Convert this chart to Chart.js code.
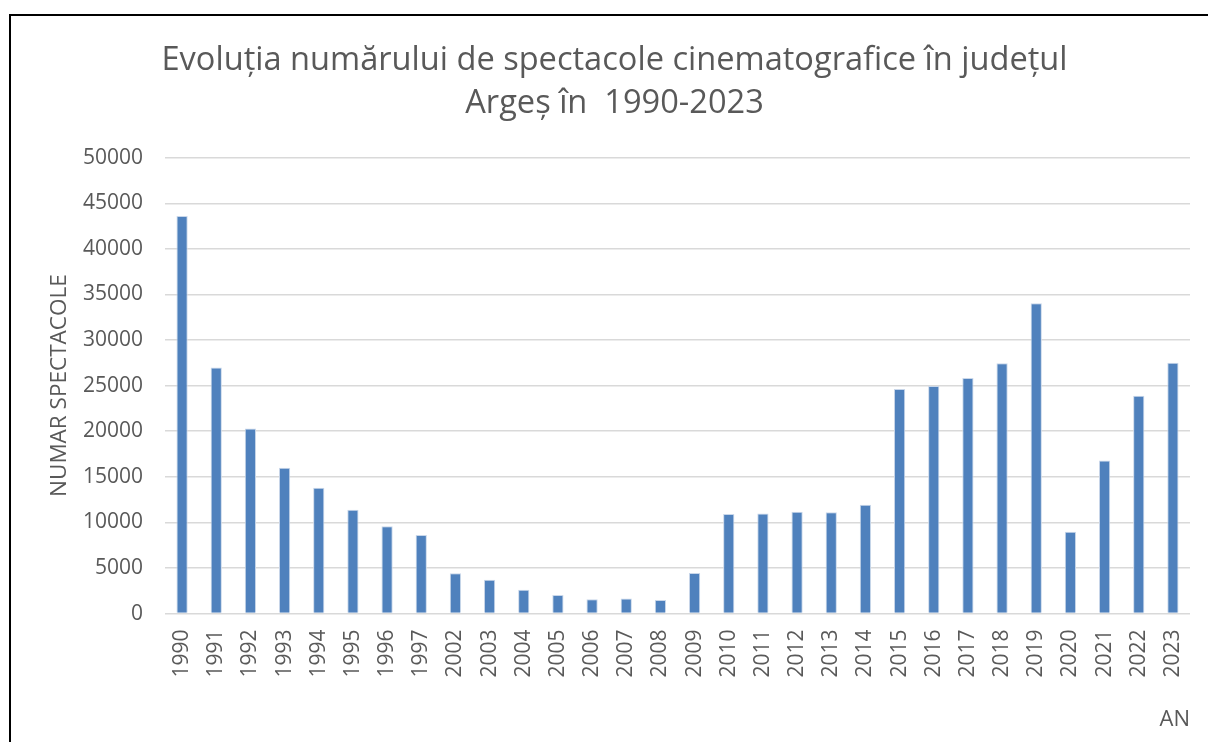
<!DOCTYPE html>
<html lang="ro">
<head>
<meta charset="utf-8">
<title>Spectacole cinematografice Argeș</title>
<script src="https://cdn.jsdelivr.net/npm/chart.js@4/dist/chart.umd.min.js"></script>
<style>
    html, body { margin: 0; padding: 0; background: #fff; }
    #wrap { position: relative; width: 1208px; height: 742px; }
</style>
</head>
<body>
<div id="wrap"><canvas id="spectacole" width="1208" height="742"></canvas></div>
<script>
    'use strict';

    const years = [
        '1990', '1991', '1992', '1993', '1994', '1995', '1996', '1997',
        '2002', '2003', '2004', '2005', '2006', '2007', '2008', '2009',
        '2010', '2011', '2012', '2013', '2014', '2015', '2016', '2017',
        '2018', '2019', '2020', '2021', '2022', '2023',
    ];

    const spectacole = [
        43600, 27000, 20300, 16000, 13800, 11400, 9570, 8620,
        4420, 3720, 2600, 2050, 1560, 1640, 1500, 4440,
        10910, 10970, 11170, 11120, 11930, 24630, 24960, 25850,
        27460, 34040, 8970, 16800, 23890, 27500,
    ];

    const yTicks = [0, 5000, 10000, 15000, 20000, 25000, 30000, 35000, 40000, 45000, 50000];

    const titleLines = ['Evoluția numărului de spectacole cinematografice în județul', 'Argeș în  1990-2023'];

    const textColor = '#595959';
    const fontFamily = '"Open Sans", "Noto Sans", sans-serif';

    // thin frame around the whole chart object
    const framePlugin = {
        id: 'frame',
        beforeDraw(chart) {
            const ctx = chart.ctx;
            ctx.save();
            ctx.fillStyle = '#ffffff';
            ctx.fillRect(0, 0, chart.width, chart.height);
            ctx.strokeStyle = '#000000';
            ctx.lineWidth = 2;
            ctx.strokeRect(10, 15, chart.width + 20, chart.height + 20);
            ctx.restore();
        },
    };

    new Chart(document.getElementById('spectacole'), {
        type: 'bar',
        data: {
            labels: years,
            datasets: [{
                label: 'NUMAR SPECTACOLE',
                data: spectacole,
                backgroundColor: '#4f81bd',
                borderColor: '#c9d7ea',
                borderWidth: { left: 1, right: 1, top: 1, bottom: 0 },
                barPercentage: 0.94,
                categoryPercentage: 0.35,
            }],
        },
        options: {
            responsive: false,
            animation: false,
            devicePixelRatio: 1,
            layout: { padding: { left: 39, right: 18, top: 29, bottom: 0 } },
            plugins: {
                legend: { display: false },
                tooltip: { enabled: false },
                title: {
                    display: true,
                    text: titleLines,
                    color: textColor,
                    font: { family: fontFamily, size: 32.6, weight: 'normal', lineHeight: 1.33 },
                    padding: { top: 10, bottom: 32 },
                },
            },
            scales: {
                x: {
                    // rotated year labels sit inside the category offset, no extra side room needed
                    afterFit(scale) {
                        scale.paddingLeft = 0;
                        scale.paddingRight = 0;
                    },
                    grid: { display: false, drawTicks: false },
                    border: { display: false },
                    ticks: {
                        color: textColor,
                        font: { family: fontFamily, size: 21 },
                        maxRotation: 90,
                        minRotation: 90,
                        autoSkip: false,
                        padding: 16,
                    },
                    title: {
                        display: true,
                        text: 'AN',
                        align: 'end',
                        color: textColor,
                        font: { family: fontFamily, size: 22, lineHeight: 1.2 },
                        padding: { top: 13, bottom: 9 },
                    },
                },
                y: {
                    min: 0,
                    max: 50000,
                    afterBuildTicks(scale) {
                        scale.ticks = yTicks.map(function (v) { return { value: v }; });
                    },
                    afterFit(scale) {
                        scale.width = 126;
                    },
                    grid: { color: '#d9d9d9', lineWidth: 1.5, drawTicks: false },
                    border: { display: false },
                    ticks: {
                        color: textColor,
                        font: { family: fontFamily, size: 21 },
                        padding: 22,
                        callback: function (value) { return String(value); },
                    },
                    title: {
                        display: true,
                        text: 'NUMAR SPECTACOLE',
                        color: textColor,
                        font: { family: fontFamily, size: 22.5, lineHeight: 1.2 },
                        padding: { top: 7.5, bottom: 0 },
                    },
                },
            },
        },
        plugins: [framePlugin],
    });
</script>
</body>
</html>
